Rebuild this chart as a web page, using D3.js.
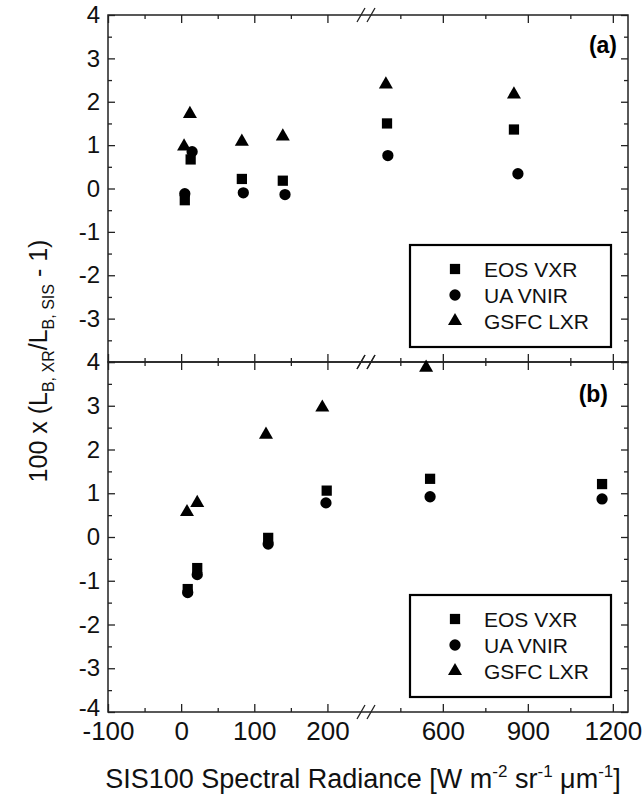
<!DOCTYPE html>
<html>
<head>
<meta charset="utf-8">
<script src="https://cdn.jsdelivr.net/npm/d3@7/dist/d3.min.js"></script>
<style>
  body { margin: 0; background: #fff; }
  svg { display: block; font-family: "Liberation Sans", Arial, sans-serif; }
  .tick text { fill: #111; }
</style>
</head>
<body>
<svg id="chart"></svg>
<script>
// series names (legend order)
var seriesNames = ["EOS VXR", "UA VNIR", "GSFC LXR"]

// panel (a)
var aEosX = [5, 13, 83, 139, 403, 851]
var aEosY = [-0.27, 0.67, 0.22, 0.18, 1.50, 1.36]
var aUaX = [5, 15, 85, 142, 406, 865]
var aUaY = [-0.12, 0.85, -0.10, -0.14, 0.76, 0.34]
var aGsfcX = [4, 12, 83, 139, 399, 851]
var aGsfcY = [0.97, 1.72, 1.08, 1.20, 2.40, 2.17]

// panel (b)
var bEosX = [9, 22, 119, 199, 555, 1162]
var bEosY = [-1.19, -0.71, -0.02, 1.06, 1.33, 1.21]
var bUaX = [9, 22, 119, 198, 555, 1162]
var bUaY = [-1.27, -0.86, -0.16, 0.78, 0.92, 0.87]
var bGsfcX = [8, 22, 116, 193, 541]
var bGsfcY = [0.57, 0.78, 2.34, 2.96, 3.87]

// ticks
var yMajor = [-4, -3, -2, -1, 0, 1, 2, 3, 4]
var yMinor = [-3.5, -2.5, -1.5, -0.5, 0.5, 1.5, 2.5, 3.5]
var xMajorLeft = [-100, 0, 100, 200]
var xMinorLeft = [-50, 50, 150]
var xMajorRight = [600, 900, 1200]
var xMinorRight = [450, 750, 1050]

var W = 644, H = 795
var plotLeft = 108, plotRight = 628, plotTop = 15, plotMid = 362, plotBottom = 712

var svg = d3.select("#chart").attr("width", W).attr("height", H)

// broken x axis: two linear pieces
var x1 = d3.scaleLinear().domain([-100, 250]).range([plotLeft, 364])
var x2 = d3.scaleLinear().domain([350, 1250]).range([372, 627])
function xpos(v) { return v < 300 ? x1(v) : x2(v) }

var fmt = function (d) { return String(d) }  // plain hyphen minus like the original

var panels = [
  { name: "(a)", y0: plotTop, y1: plotMid, labelX: 617, labelY: 53, lastLabel: false,
    series: [[aEosX, aEosY], [aUaX, aUaY], [aGsfcX, aGsfcY]] },
  { name: "(b)", y0: plotMid, y1: plotBottom, labelX: 608, labelY: 402, lastLabel: true,
    series: [[bEosX, bEosY], [bUaX, bUaY], [bGsfcX, bGsfcY]] }
]

var shapes = [d3.symbolSquare, d3.symbolCircle, d3.symbolTriangle]
var sizes = [105, 100, 85]

function hAxis(g, ypos, dir, labels) {
  // dir: -1 ticks go up, +1 ticks go down
  var maker = dir < 0 ? d3.axisBottom : d3.axisTop
  var pieces = [[x1, xMajorLeft, xMinorLeft], [x2, xMajorRight, xMinorRight]]
  pieces.forEach(function (p) {
    var major = g.append("g").attr("transform", "translate(0," + ypos + ")")
      .call(maker(p[0]).tickValues(p[1]).tickSize(-8).tickSizeOuter(0).tickPadding(10)
        .tickFormat(labels ? fmt : ""))
    major.select(".domain").remove()
    major.selectAll("text").style("font-size", "26px")
    var minor = g.append("g").attr("transform", "translate(0," + ypos + ")")
      .call(maker(p[0]).tickValues(p[2]).tickSize(-4).tickSizeOuter(0).tickFormat(""))
    minor.select(".domain").remove()
  })
  g.selectAll("line").attr("stroke", "#222").attr("stroke-width", 1.3)
}

function breakMarks(g, ypos) {
  [361, 371].forEach(function (cx) {
    g.append("line")
      .attr("x1", cx - 4).attr("y1", ypos + 7)
      .attr("x2", cx + 4).attr("y2", ypos - 7)
      .attr("stroke", "#222").attr("stroke-width", 1.3)
  })
}

panels.forEach(function (p) {
  var y = d3.scaleLinear().domain([-4, 4]).range([p.y1, p.y0])
  var g = svg.append("g")

  // frame
  g.append("rect")
    .attr("x", plotLeft).attr("y", p.y0)
    .attr("width", plotRight - plotLeft).attr("height", p.y1 - p.y0)
    .attr("fill", "none").attr("stroke", "#222").attr("stroke-width", 1.5)

  // left axis with labels
  var la = g.append("g").attr("transform", "translate(" + plotLeft + ",0)")
    .call(d3.axisLeft(y).tickValues(yMajor).tickSize(-7).tickSizeOuter(0).tickPadding(8)
      .tickFormat(function (d) { return (d === -4 && !p.lastLabel) ? "" : fmt(d) }))
  la.select(".domain").remove()
  la.selectAll("text").style("font-size", "24px")
  // bottom-most label sits a little high, clear of the x labels
  la.selectAll(".tick").filter(function (d) { return d === -4 }).select("text").attr("y", -4)
  var lm = g.append("g").attr("transform", "translate(" + plotLeft + ",0)")
    .call(d3.axisLeft(y).tickValues(yMinor).tickSize(-4).tickSizeOuter(0).tickFormat(""))
  lm.select(".domain").remove()

  // right axis
  var ra = g.append("g").attr("transform", "translate(" + plotRight + ",0)")
    .call(d3.axisRight(y).tickValues(yMajor).tickSize(-7).tickSizeOuter(0).tickFormat(""))
  ra.select(".domain").remove()
  var rm = g.append("g").attr("transform", "translate(" + plotRight + ",0)")
    .call(d3.axisRight(y).tickValues(yMinor).tickSize(-4).tickSizeOuter(0).tickFormat(""))
  rm.select(".domain").remove()
  g.selectAll(".tick line").attr("stroke", "#222").attr("stroke-width", 1.3)

  // top and bottom x ticks (inward)
  hAxis(g, p.y0, 1, false)
  hAxis(g, p.y1, -1, p.lastLabel)
  breakMarks(g, p.y0)
  breakMarks(g, p.y1)

  // points
  p.series.forEach(function (s, i) {
    var pts = s[0].map(function (xv, k) { return { x: xv, y: s[1][k] } })
    g.selectAll("path.s" + i)
      .data(pts)
      .enter()
      .append("path")
      .attr("class", "s" + i)
      .attr("d", d3.symbol().type(shapes[i]).size(sizes[i]))
      .attr("transform", function (d) { return "translate(" + xpos(d.x) + "," + y(d.y) + ")" })
      .attr("fill", "#000")
  })

  // panel label
  g.append("text")
    .attr("x", p.labelX).attr("y", p.labelY)
    .attr("text-anchor", "end")
    .style("font-size", "23px").style("font-weight", "bold")
    .text(p.name)

  // legend
  var lw = 201, lh = 102
  var lx = 611 - lw, ly = p.y1 - 15 - lh
  var leg = g.append("g").attr("transform", "translate(" + lx + "," + ly + ")")
  leg.append("rect").attr("width", lw).attr("height", lh)
    .attr("fill", "#fff").attr("stroke", "#000").attr("stroke-width", 2.2)
  seriesNames.forEach(function (name, i) {
    var row = leg.append("g").attr("transform", "translate(0," + (24 + i * 26) + ")")
    row.append("path")
      .attr("d", d3.symbol().type(shapes[i]).size(sizes[i]))
      .attr("transform", "translate(45,0)")
      .attr("fill", "#000")
    row.append("text").attr("x", 74).attr("y", 7.5)
      .style("font-size", "21px").attr("fill", "#111")
      .text(name)
  })
})

// x axis title
var xt = svg.append("text")
  .attr("x", 363).attr("y", 788)
  .attr("text-anchor", "middle")
  .style("font-size", "27px").attr("fill", "#111")
xt.append("tspan").text("SIS100 Spectral Radiance [W m")
xt.append("tspan").attr("dy", -11).style("font-size", "17px").text("-2")
xt.append("tspan").attr("dy", 11).text(" sr")
xt.append("tspan").attr("dy", -11).style("font-size", "17px").text("-1")
xt.append("tspan").attr("dy", 11).text(" \u03bcm")
xt.append("tspan").attr("dy", -11).style("font-size", "17px").text("-1")
xt.append("tspan").attr("dy", 11).text("]")

// y axis title
var yt = svg.append("text")
  .attr("transform", "translate(47,361) rotate(-90)")
  .attr("text-anchor", "middle")
  .style("font-size", "25px").attr("fill", "#111")
yt.append("tspan").text("100 x (L")
yt.append("tspan").attr("dy", 7).style("font-size", "16px").text("B, XR")
yt.append("tspan").attr("dy", -7).text("/L")
yt.append("tspan").attr("dy", 7).style("font-size", "16px").text("B, SIS")
yt.append("tspan").attr("dy", -7).text(" - 1)")
</script>
</body>
</html>
